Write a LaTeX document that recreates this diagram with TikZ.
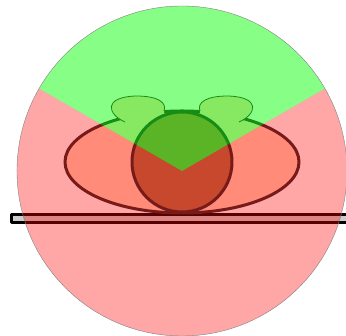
\documentclass[tikz,border=0pt]{standalone}
\usetikzlibrary{calc}
\definecolor{shell}{RGB}{255,215,185}
\definecolor{core}{RGB}{172,112,72}
\definecolor{edge}{RGB}{45,40,40}
\begin{document}
\begin{tikzpicture}[x=1pt,y=1pt,line join=round]
\useasboundingbox (0,0) rectangle (346,336);
\filldraw[fill=gray!40,draw=black,line width=3pt] (11.5,113.5) rectangle (352,121.5);
\filldraw[fill=shell,draw=edge,line width=3pt] (182,174) ellipse [x radius=117,y radius=51];
\foreach \s in {1,-1}{
\begin{scope}[shift={(182,0)},xscale=\s]
\fill[shell] (-57,214) .. controls (-75,222) and (-79,239) .. (-46,240) .. controls (-23,240) and (-15,233) .. (-18,225) -- (-18,216) -- (-57,211) -- cycle;
\draw[edge,line width=.8pt] (-57,214) .. controls (-75,222) and (-79,239) .. (-46,240) .. controls (-23,240) and (-15,233) .. (-18,225);
\end{scope}
}
\filldraw[fill=core,draw=edge,line width=3pt] (182,174) circle [radius=50];
\fill[red,opacity=.35] (182,165)--++(150:165) arc [start angle=150,end angle=390,radius=165]--cycle;
\fill[green,opacity=.47] (182,165)--++(30:165) arc [start angle=30,end angle=150,radius=165]--cycle;
\draw[gray,line width=.4pt] (182,165) circle [radius=165];
\end{tikzpicture}
\end{document}
